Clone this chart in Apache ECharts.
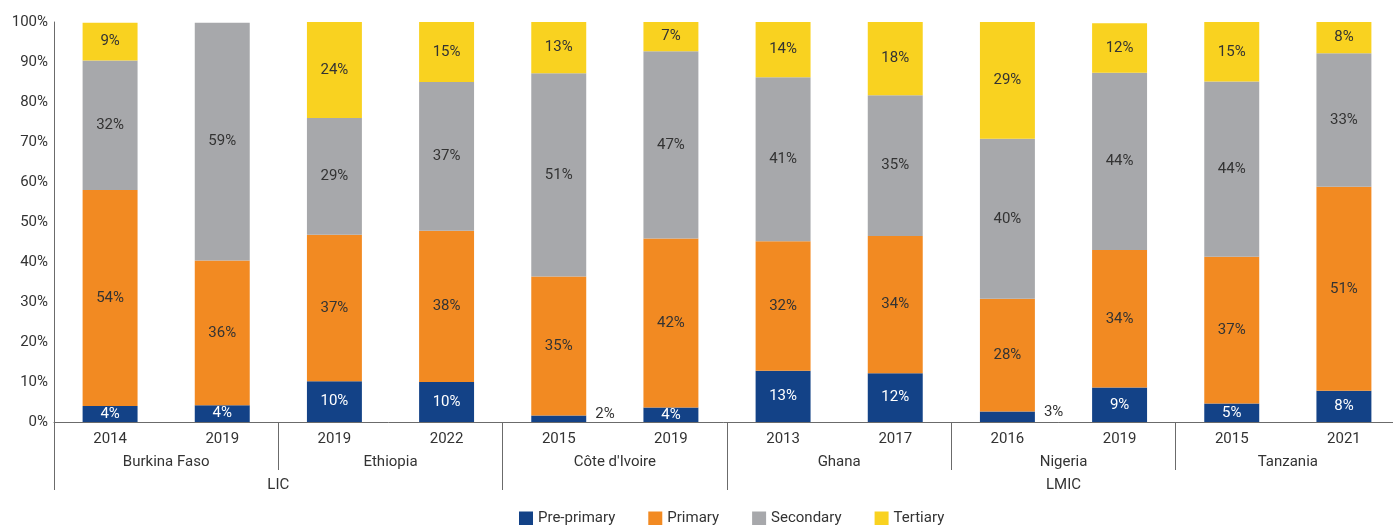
<!DOCTYPE html>
<html>
<head>
<meta charset="utf-8">
<script src="https://cdn.jsdelivr.net/npm/echarts@6/dist/echarts.min.js"></script>
<style>
  html, body { margin: 0; padding: 0; background: #fff; }
  #chart { width: 1393px; height: 525px; }
</style>
</head>
<body>
<div id="chart"></div>
<script>
// one bar per country/year, two bars per country
const years = ['2014', '2019', '2019', '2022', '2015', '2019', '2013', '2017', '2016', '2019', '2015', '2021']
const countries = ['Burkina Faso', 'Ethiopia', "Côte d'Ivoire", 'Ghana', 'Nigeria', 'Tanzania']
// income groups as [first bar index, last bar index + 1]
const incomeGroups = ['LIC', 'LMIC']
const incomeSpans = [[0, 4], [6, 12]]

const prePrimary = [4.0, 4.2, 10.2, 10.0, 1.6, 3.6, 12.8, 12.2, 2.6, 8.6, 4.6, 7.8]
const primary = [54.0, 36.2, 36.6, 37.8, 34.8, 42.3, 32.4, 34.3, 28.2, 34.4, 36.7, 51.0]
const secondary = [32.4, 59.4, 29.2, 37.2, 50.8, 46.8, 41.0, 35.2, 40.0, 44.3, 43.8, 33.4]
const tertiary = [9.4, 0, 24.0, 15.0, 12.8, 7.3, 13.8, 18.3, 29.2, 12.4, 14.9, 7.8]

const FONT = 'Roboto'
const AXIS_COLOR = '#6b6b6b'
const TEXT_COLOR = '#333'

const chart = echarts.init(document.getElementById('chart'))

const pctLabel = p => (p.value ? Math.round(p.value) + '%' : '')

function makeSeries (name, values, color, labelColor) {
  return {
    name,
    type: 'bar',
    stack: 'total',
    barWidth: '49%',
    itemStyle: { color },
    label: {
      show: true,
      position: 'inside',
      color: labelColor,
      fontFamily: FONT,
      fontSize: 15,
      formatter: pctLabel
    },
    data: values.map(v => v < 3 && v > 0
      ? { value: v, label: { position: 'right', color: TEXT_COLOR, distance: 9, offset: [0, -5] } }
      : v)
  }
}

// country separators between pairs, income group separators longer
const countryTicks = [2, 8, 10]
const groupTicks = [0, 4, 6]
const countryCenters = countries.map((c, i) => i * 2 + 1)
const groupCenters = incomeSpans.map(s => (s[0] + s[1]) / 2)

chart.setOption({
  animation: false,
  textStyle: { fontFamily: FONT },
  // plot runs a little past the right edge, as in the source
  grid: { left: 54, width: 1346, top: 22, bottom: 103, containLabel: false, outerBoundsMode: 'none' },
  legend: {
    bottom: -6,
    left: 514,
    itemWidth: 14,
    itemHeight: 14,
    itemGap: 33,
    icon: 'rect',
    textStyle: { fontFamily: FONT, fontSize: 15, color: TEXT_COLOR },
    data: ['Pre-primary', 'Primary', 'Secondary', 'Tertiary']
  },
  xAxis: [
    {
      type: 'category',
      data: years,
      axisLine: { lineStyle: { color: AXIS_COLOR } },
      axisTick: { show: false },
      axisLabel: { color: TEXT_COLOR, fontSize: 15, margin: 10 }
    },
    {
      type: 'value',
      min: 0,
      max: 12,
      position: 'bottom',
      splitLine: { show: false },
      axisLine: { show: false },
      axisTick: { show: true, length: 48, customValues: countryTicks, lineStyle: { color: AXIS_COLOR } },
      axisLabel: {
        color: TEXT_COLOR,
        fontSize: 15,
        margin: 33,
        customValues: countryCenters,
        formatter: v => countries[(v - 1) / 2]
      }
    },
    {
      type: 'value',
      min: 0,
      max: 12,
      position: 'bottom',
      splitLine: { show: false },
      axisLine: { show: false },
      axisTick: { show: true, length: 68, customValues: groupTicks, lineStyle: { color: AXIS_COLOR } },
      axisLabel: {
        color: TEXT_COLOR,
        fontSize: 15,
        margin: 56,
        customValues: groupCenters,
        formatter: v => incomeGroups[groupCenters.indexOf(v)]
      }
    }
  ],
  yAxis: {
    type: 'value',
    min: 0,
    max: 100,
    interval: 10,
    axisLine: { show: true, lineStyle: { color: AXIS_COLOR } },
    axisTick: { show: false },
    splitLine: { show: false },
    axisLabel: { color: TEXT_COLOR, fontSize: 15, margin: 6, formatter: '{value}%' }
  },
  series: [
    makeSeries('Pre-primary', prePrimary, '#134287', '#fff'),
    makeSeries('Primary', primary, '#f28a22', TEXT_COLOR),
    makeSeries('Secondary', secondary, '#a7a8ab', TEXT_COLOR),
    makeSeries('Tertiary', tertiary, '#f9d220', TEXT_COLOR)
  ]
})
</script>
</body>
</html>
